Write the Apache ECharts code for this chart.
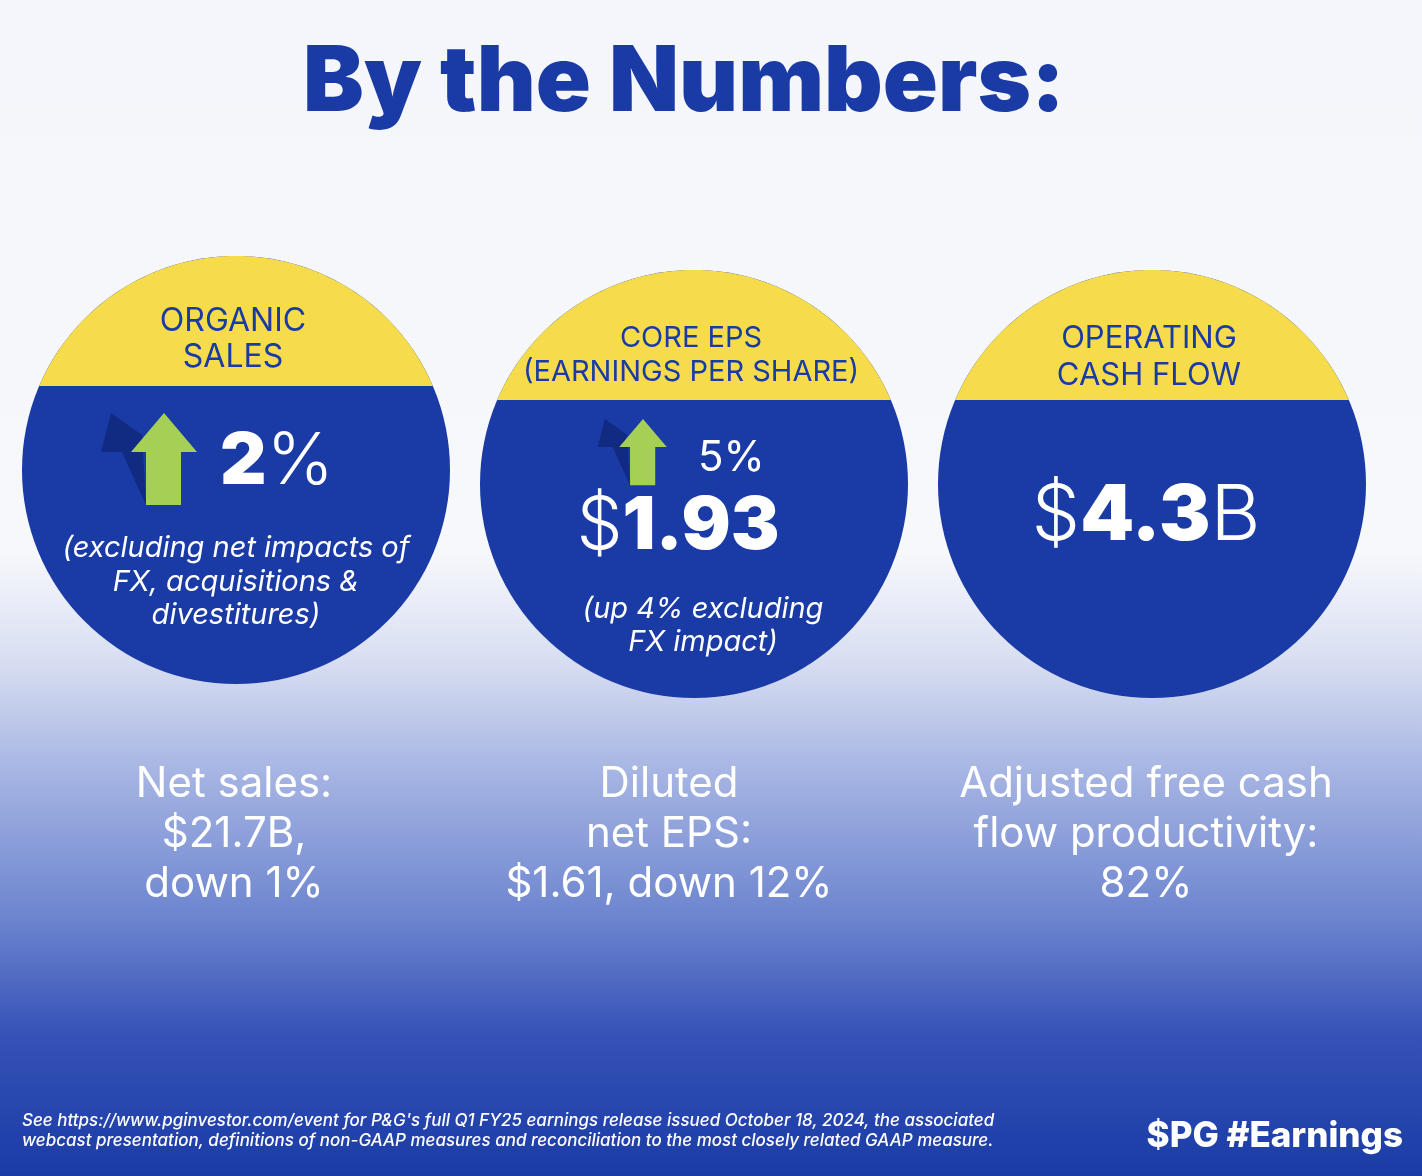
<!DOCTYPE html>
<html>
<head>
<meta charset="utf-8">
<script src="https://cdn.jsdelivr.net/npm/echarts@6/dist/echarts.min.js"></script>
<style>
  html, body { margin: 0; padding: 0; }
  #chart { width: 1422px; height: 1176px; }
</style>
</head>
<body>
<div id="chart"></div>
<script>
// --- data ---
const cards = ['Organic sales', 'Core EPS', 'Operating cash flow'];
const cardTitles = [['ORGANIC', 'SALES'], ['CORE EPS', '(EARNINGS PER SHARE)'], ['OPERATING', 'CASH FLOW']];
const growthPct = [2, 5, null];
const amounts = [null, '1.93', '4.3'];
const amountSuffix = ['', '', 'B'];
const notes = [
  ['(excluding net impacts of', 'FX, acquisitions &', 'divestitures)'],
  ['(up 4% excluding', 'FX impact)'],
  []
];
const bottomLines = [
  ['Net sales:', '$21.7B,', 'down 1%'],
  ['Diluted', 'net EPS:', '$1.61, down 12%'],
  ['Adjusted free cash', 'flow productivity:', '82%']
];
const footnote = [
  'See https://www.pginvestor.com/event for P&G\'s full Q1 FY25 earnings release issued October 18, 2024, the associated',
  'webcast presentation, definitions of non-GAAP measures and reconciliation to the most closely related GAAP measure.'
];
const hashtag = '$PG #Earnings';

// --- look ---
const BLUE = '#1a3ba6';
const DARK = '#112b82';
const YELLOW = '#f6dc4b';
const GREEN = '#a6cf56';
const FONT = 'Inter, "Open Sans", sans-serif';

// per-card layout, relative to the card centre
const layout = [
  { cy: 470, r: 214, cap: 386, titleY: [321, 357], titleSize: 32, arrow: { dx: -72, top: 413, s: 1 },
    pct: { dx: -16, y: 462, size: 72 }, notesX: 0, notesY: [548, 582, 615], bottomX: -2 },
  { cy: 484, r: 214, cap: 400, titleY: [338, 372], titleSize: 29, arrow: { dx: -51, top: 419, s: 0.72 },
    pct: { dx: 4, y: 458, size: 42 }, amount: { dx: -16, y: 527, size: 73 }, notesX: 9, notesY: [609, 642], bottomX: -25 },
  { cy: 484, r: 214, cap: 400, titleY: [339, 376], titleSize: 31,
    amount: { dx: -6, y: 517, size: 77 }, notesX: 0, notesY: [], bottomX: -6 }
];

function capPoints(cx, cy, r, capY) {
  const h = cy - capY;
  const a0 = Math.acos(h / r);
  const pts = [];
  for (let i = 0; i <= 80; i++) {
    const a = -a0 + (2 * a0 * i) / 80;
    pts.push([cx + r * Math.sin(a), cy - r * Math.cos(a)]);
  }
  return pts;
}

function arrowShapes(tipX, top, s) {
  const p = (dx, dy) => [tipX + dx * s, top + dy * s];
  return [
    { type: 'polygon', shape: { points: [p(-53, 0), p(-22, 22), p(-18, 92), p(-42, 39), p(-63, 39)] },
      style: { fill: DARK } },
    { type: 'polygon', shape: { points: [p(0, 0), p(33, 39), p(17, 39), p(17, 92), p(-18, 92), p(-18, 39), p(-33, 39)] },
      style: { fill: GREEN } }
  ];
}

function txt(x, y, text, size, opts) {
  return {
    type: 'text', x: x, y: y,
    style: Object.assign({
      text: text, fill: '#fff', fontFamily: FONT, fontSize: size,
      align: 'center', verticalAlign: 'middle'
    }, opts || {})
  };
}

function renderItem(params, api) {
  const i = api.value(0);
  const L = layout[i];
  const cx = api.coord([i, 0])[0];
  const cy = api.coord([i, L.cy])[1];
  const kids = [];
  kids.push({ type: 'circle', shape: { cx: cx, cy: cy, r: L.r }, style: { fill: BLUE } });
  kids.push({ type: 'polygon', shape: { points: capPoints(cx, cy, L.r, L.cap) }, style: { fill: YELLOW } });
  cardTitles[i].forEach((t, k) => {
    kids.push(txt(cx - 3, L.titleY[k], t, L.titleSize, { fill: BLUE, fontWeight: 400 }));
  });
  if (L.arrow) kids.push.apply(kids, arrowShapes(cx + L.arrow.dx, L.arrow.top, L.arrow.s));
  if (growthPct[i] != null) {
    const big = !amounts[i];
    kids.push(txt(cx + L.pct.dx, L.pct.y, big ? '{b|' + growthPct[i] + '}{r|%}' : growthPct[i] + '%', L.pct.size, {
      align: 'left',
      rich: {
        b: { fill: '#fff', fontFamily: FONT, fontSize: L.pct.size, fontWeight: 900 },
        r: { fill: '#fff', fontFamily: FONT, fontSize: L.pct.size, fontWeight: 300 }
      },
      fontWeight: 400
    }));
  }
  if (amounts[i]) {
    const a = L.amount;
    const rich = {
      r: { fill: '#fff', fontFamily: FONT, fontSize: a.size, fontWeight: 300 },
      b: { fill: '#fff', fontFamily: FONT, fontSize: a.size, fontWeight: 900 }
    };
    let s = '{r|$}{b|' + amounts[i] + '}';
    if (amountSuffix[i]) s += '{r|' + amountSuffix[i] + '}';
    kids.push(txt(cx + a.dx, a.y, s, a.size, { rich: rich }));
  }
  notes[i].forEach((t, k) => {
    kids.push(txt(cx + L.notesX, L.notesY[k], t, 29, { fontStyle: 'italic' }));
  });
  bottomLines[i].forEach((t, k) => {
    kids.push(txt(cx + L.bottomX, 784 + k * 50, t, 42));
  });
  return { type: 'group', children: kids };
}

const chart = echarts.init(document.getElementById('chart'));
chart.setOption({
  backgroundColor: {
    type: 'linear', x: 0, y: 0, x2: 0, y2: 1,
    colorStops: [
      { offset: 0, color: '#f4f6fb' },
      { offset: 0.47, color: '#f7f8fc' },
      { offset: 0.56, color: '#d9dff2' },
      { offset: 0.66, color: '#a4b3e2' },
      { offset: 0.78, color: '#6d85cf' },
      { offset: 0.88, color: '#3552b7' },
      { offset: 1, color: '#1a3ba6' }
    ]
  },
  animation: false,
  grid: { left: 7, right: 41, top: 0, bottom: 0 },
  xAxis: { type: 'category', data: cards, show: false },
  yAxis: { type: 'value', min: 0, max: 1176, inverse: true, show: false },
  series: [{
    type: 'custom',
    renderItem: renderItem,
    data: cards.map((c, i) => [i]),
    encode: { x: 0 }
  }],
  graphic: [
    { type: 'text', x: 684, y: 84,
      style: { text: 'By the Numbers:', fill: BLUE, fontFamily: FONT, fontSize: 91, fontWeight: 900,
               align: 'center', verticalAlign: 'middle' } },
    { type: 'text', x: 22, y: 1111,
      style: { text: footnote.join('\n'), fill: '#fff', fontFamily: FONT, fontSize: 17,
               fontStyle: 'italic', fontWeight: 500, lineHeight: 20 } },
    { type: 'text', right: 19, top: 1119,
      style: { text: hashtag, fill: '#fff', fontFamily: FONT, fontSize: 35, fontWeight: 800 } }
  ]
});
</script>
</body>
</html>
